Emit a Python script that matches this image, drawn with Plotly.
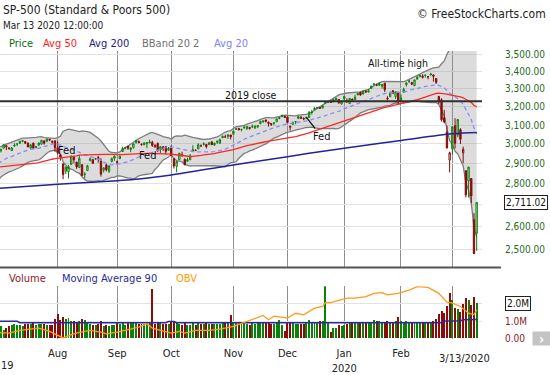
import math
import statistics
import plotly.graph_objects as go

# ---------------- data (trading-day index 0 = Jul 1 2019) ----------------
MONTH_START_IDX = [22, 44, 64, 87, 107, 128, 149, 168]
MONTH_LABELS = ["Aug", "Sep", "Oct", "Nov", "Dec", "Jan<br>2020", "Feb", ""]
PRICE_TICKS = [2500, 2600, 2700, 2800, 2900, 3000, 3100, 3200, 3300, 3400, 3500]
PRICE_TICK_HIDDEN = [2700]   # covered by the last-price box
VOLUME_TICKS = [0, 1, 2]
VOLUME_TICK_TEXT = ["0.00", "1.0M", ""]

# closes before the first visible day (for the 20/50-day averages)
PRE_CLOSE = [2900.45, 2905.03, 2907.97, 2933.68, 2927.25, 2926.17, 2939.88, 2943.03, 2945.83,
             2923.73, 2917.52, 2945.64, 2932.47, 2884.05, 2879.42, 2870.72, 2881.40, 2811.87, 2834.41,
             2850.96, 2876.32, 2859.53, 2840.23, 2864.36, 2856.27, 2822.24, 2826.06, 2802.39, 2783.02,
             2788.86, 2752.06,
             2744.45, 2803.27, 2826.15, 2843.49, 2873.34, 2886.73, 2885.72, 2879.84, 2891.64, 2886.98,
             2889.67, 2917.75, 2926.46, 2954.18, 2950.46, 2945.35, 2917.38, 2913.78, 2924.92, 2941.76]

OPEN = [
    2971.4, 2964.7, 2978.1, 2984.3, 2979.8, 2965.5, 2989.3, 2999.6, 3003.4, 3017.8, 3012.1, 3005.1, 2978.9, 3004.3, 2981.9, 2994.7, 2998.8, 3016.3, 3013.2, 3024.5, 3007.7, 3016.2,
    2980.3, 2943.9, 2898.1, 2861.2, 2858.7, 2896.2, 2930.5, 2907.1, 2880.7, 2894.2, 2846.2, 2864.7, 2913.5, 2919.0, 2922.0, 2930.9, 2911.1, 2866.7, 2893.1, 2861.3, 2910.4, 2937.1,
    2909.0, 2924.7, 2960.6, 2980.3, 2988.4, 2971.0, 2981.4, 3018.2, 3012.2, 2996.4, 2995.7, 3001.5, 3010.4, 3008.4, 2983.5, 3002.4, 2968.4, 2985.7, 2985.5, 2967.1,
    2983.7, 2924.8, 2885.4, 2918.6, 2944.2, 2920.4, 2911.1, 2918.6, 2963.1, 2965.8, 2973.6, 2989.7, 3000.8, 2996.8, 2996.5, 3010.7, 2994.0, 3014.8, 3003.3, 3032.1, 3035.4, 3039.7, 3046.9,
    3050.7, 3079.0, 3080.8, 3075.1, 3087.0, 3081.2, 3080.3, 3089.3, 3084.2, 3090.8, 3107.9, 3117.9, 3127.5, 3114.7, 3108.5, 3111.4, 3117.4, 3134.9, 3145.5, 3147.2,
    3143.8, 3087.4, 3103.5, 3119.2, 3134.6, 3141.9, 3135.4, 3135.8, 3141.2, 3166.7, 3183.6, 3195.4, 3195.2, 3192.3, 3223.3, 3226.1, 3225.4, 3227.2, 3247.2, 3240.1, 3215.2,
    3244.7, 3226.4, 3217.6, 3241.9, 3238.6, 3266.0, 3281.0, 3271.1, 3285.4, 3282.3, 3303.0, 3323.7, 3321.0, 3330.0, 3315.8, 3333.1, 3247.2, 3255.4, 3289.5, 3256.5, 3282.3,
    3235.7, 3280.6, 3324.9, 3344.9, 3335.5, 3318.3, 3365.9, 3370.5, 3365.9, 3378.1, 3369.0, 3380.4, 3380.5, 3360.5, 3257.6, 3238.9, 3139.9, 3062.5, 2916.9,
    2974.3, 3096.5, 3045.8, 3075.7, 2954.2, 2863.9, 2813.5, 2825.6, 2630.9, 2570.0,
]
HIGH = [
    2977.9, 2973.2, 2995.8, 2994.0, 2980.8, 2981.9, 3003.0, 3002.3, 3013.9, 3017.8, 3015.0, 3005.3, 2998.3, 3006.5, 2990.7, 3005.9, 3019.6, 3016.3, 3028.0, 3025.6, 3017.2, 3017.4,
    3013.6, 2945.5, 2898.1, 2884.4, 2892.2, 2938.7, 2935.8, 2907.6, 2943.3, 2894.2, 2856.7, 2893.6, 2931.0, 2923.6, 2928.7, 2939.1, 2927.0, 2879.3, 2898.8, 2890.0, 2930.5, 2940.4,
    2914.4, 2938.8, 2985.9, 2985.0, 2989.4, 2979.4, 3000.9, 3020.7, 3017.3, 3002.2, 3006.2, 3007.8, 3022.0, 3016.4, 2999.2, 3008.0, 2989.8, 2987.3, 2987.3, 2983.9,
    2992.5, 2924.8, 2911.1, 2953.7, 2959.8, 2925.5, 2929.3, 2948.5, 2993.3, 2972.8, 3003.3, 2997.5, 3008.3, 3000.0, 3007.3, 3014.6, 3004.8, 3016.1, 3027.4, 3044.1, 3047.9, 3050.1, 3046.9,
    3066.9, 3085.2, 3084.0, 3078.3, 3097.8, 3093.1, 3088.3, 3102.6, 3098.1, 3098.2, 3120.5, 3124.2, 3127.6, 3119.0, 3110.1, 3112.9, 3133.8, 3142.7, 3154.3, 3150.3,
    3144.3, 3095.0, 3119.4, 3119.4, 3150.6, 3148.9, 3142.1, 3144.0, 3176.3, 3182.7, 3197.7, 3198.2, 3198.5, 3205.5, 3225.6, 3227.8, 3226.4, 3240.1, 3247.9, 3240.9, 3231.7,
    3258.1, 3246.2, 3246.8, 3244.9, 3267.1, 3275.6, 3283.0, 3288.1, 3294.2, 3298.7, 3317.1, 3329.9, 3329.8, 3337.8, 3326.9, 3333.2, 3258.9, 3285.8, 3293.5, 3285.9, 3282.3,
    3268.4, 3306.9, 3337.6, 3348.0, 3341.4, 3352.3, 3375.6, 3381.5, 3385.1, 3380.7, 3375.0, 3393.5, 3385.1, 3360.8, 3259.8, 3247.0, 3182.5, 3097.1, 2959.7,
    3091.0, 3136.7, 3131.0, 3083.0, 2985.9, 2863.9, 2882.6, 2825.6, 2661.0, 2711.3,
]
LOW = [
    2952.2, 2955.9, 2977.9, 2967.9, 2970.1, 2963.4, 2984.6, 2988.8, 3001.9, 3008.8, 3001.2, 2984.3, 2973.1, 2975.9, 2976.7, 2988.6, 2996.8, 2996.2, 3012.6, 3014.5, 3000.9, 2958.1,
    2945.2, 2914.1, 2822.1, 2847.4, 2825.7, 2891.7, 2900.2, 2873.1, 2877.1, 2839.6, 2825.5, 2864.7, 2913.5, 2899.6, 2917.9, 2904.5, 2835.0, 2856.0, 2860.6, 2853.1, 2905.7, 2913.3,
    2891.9, 2921.9, 2960.6, 2972.5, 2969.4, 2957.0, 2975.3, 3000.9, 3002.9, 2990.7, 2993.7, 2978.6, 3003.2, 2984.7, 2982.2, 2957.7, 2952.9, 2963.7, 2945.5, 2967.1,
    2938.7, 2874.9, 2855.9, 2918.6, 2935.7, 2892.7, 2907.4, 2917.1, 2963.1, 2962.9, 2973.6, 2985.2, 2991.8, 2976.3, 2995.4, 2995.0, 2991.2, 3000.4, 3001.9, 3032.1, 3034.8, 3026.0, 3023.2,
    3050.7, 3074.9, 3072.2, 3065.9, 3080.2, 3073.6, 3075.8, 3084.7, 3078.8, 3083.3, 3104.6, 3112.1, 3113.5, 3091.4, 3094.6, 3099.3, 3117.4, 3131.0, 3143.4, 3139.3,
    3110.8, 3070.3, 3102.5, 3103.8, 3134.6, 3135.5, 3126.1, 3133.2, 3138.5, 3156.5, 3183.6, 3191.0, 3191.1, 3192.3, 3216.0, 3222.3, 3220.5, 3227.2, 3234.4, 3216.6, 3212.0,
    3235.5, 3222.3, 3214.6, 3232.4, 3236.7, 3263.7, 3260.9, 3268.4, 3277.2, 3280.7, 3302.8, 3318.9, 3316.6, 3320.0, 3302.0, 3281.5, 3234.5, 3253.2, 3271.9, 3242.8, 3214.7,
    3235.7, 3280.6, 3313.8, 3334.4, 3322.1, 3317.8, 3352.7, 3369.7, 3360.5, 3366.2, 3355.6, 3378.8, 3341.5, 3328.5, 3214.6, 3118.8, 3109.0, 2977.4, 2855.8,
    2945.2, 2976.6, 3034.4, 2999.8, 2901.5, 2734.4, 2734.0, 2707.2, 2478.9, 2492.4,
]
CLOSE = [
    2964.3, 2973.0, 2995.8, 2990.4, 2976.0, 2979.6, 2993.1, 2999.9, 3013.8, 3014.3, 3004.0, 2984.4, 2995.1, 2976.6, 2985.0, 3005.5, 3019.6, 3003.7, 3025.9, 3021.0, 3013.2, 2980.4,
    2953.6, 2932.1, 2844.7, 2881.8, 2884.0, 2938.1, 2918.7, 2882.7, 2926.3, 2840.6, 2847.6, 2888.7, 2923.7, 2900.5, 2924.4, 2923.0, 2847.1, 2878.4, 2869.2, 2887.9, 2924.6, 2926.5,
    2906.3, 2937.8, 2976.0, 2978.7, 2978.4, 2979.4, 3000.9, 3009.6, 3007.4, 2998.0, 3005.7, 3006.7, 3006.8, 2992.1, 2991.8, 2966.6, 2984.9, 2977.6, 2961.8, 2976.7,
    2940.3, 2887.6, 2910.6, 2952.0, 2938.8, 2893.1, 2919.4, 2938.1, 2970.3, 2966.2, 2995.7, 2989.7, 2998.0, 2986.2, 3006.7, 2996.0, 3004.5, 3010.3, 3022.6, 3039.4, 3036.9, 3046.8, 3037.6,
    3066.9, 3078.3, 3074.6, 3076.8, 3085.2, 3093.1, 3087.0, 3091.8, 3094.0, 3096.6, 3120.5, 3122.0, 3120.2, 3108.5, 3103.5, 3110.3, 3133.6, 3140.5, 3153.6, 3141.0,
    3113.9, 3093.2, 3112.8, 3117.4, 3145.9, 3136.0, 3132.5, 3141.6, 3168.6, 3168.8, 3191.5, 3192.5, 3191.1, 3205.4, 3221.2, 3224.0, 3223.4, 3239.9, 3240.0, 3221.3, 3230.8,
    3257.9, 3234.9, 3246.3, 3237.2, 3253.1, 3274.7, 3265.4, 3288.1, 3283.2, 3289.3, 3316.8, 3329.6, 3320.8, 3321.8, 3325.5, 3295.5, 3243.6, 3276.2, 3273.4, 3283.7, 3225.5,
    3248.9, 3297.6, 3334.7, 3345.8, 3327.7, 3352.1, 3357.8, 3379.5, 3373.9, 3380.2, 3370.3, 3386.2, 3373.2, 3337.8, 3225.9, 3128.2, 3116.4, 2978.8, 2954.2,
    3090.2, 3003.4, 3130.1, 3023.9, 2972.4, 2746.6, 2882.2, 2741.4, 2480.6, 2711.02,
]
VOLUME = [
    0.75, 0.7, 0.45, 0.55, 0.7, 0.75, 0.8, 0.75, 0.75, 0.7, 0.8, 0.8, 0.8, 0.85, 0.75, 0.8, 0.8, 0.8, 0.75, 0.75, 0.75, 1.1,
    1.36, 1.05, 1.2, 1.1, 1.15, 1.0, 1.0, 0.85, 1.0, 1.1, 1.05, 0.9, 0.8, 0.75, 0.75, 0.8, 1.0, 0.7, 0.75, 0.7, 0.75, 0.75,
    0.85, 0.8, 0.85, 0.75, 0.85, 0.9, 0.9, 0.9, 0.8, 0.8, 0.8, 0.85, 0.85, 2.85, 0.8, 0.85, 0.85, 0.8, 0.8, 0.8,
    0.95, 1.0, 0.95, 0.8, 0.75, 0.85, 0.75, 0.75, 0.9, 0.75, 0.85, 0.8, 0.8, 0.85, 0.8, 0.8, 0.8, 0.8, 0.8, 0.85, 0.85, 0.85, 1.3,
    0.85, 0.9, 0.9, 0.85, 0.9, 0.8, 0.75, 0.85, 0.8, 0.85, 0.85, 0.85, 0.85, 0.85, 0.8, 0.8, 0.85, 1.05, 0.75, 0.4,
    0.9, 0.9, 0.85, 0.8, 0.8, 0.8, 0.8, 0.85, 1.05, 0.95, 0.95, 0.9, 1.0, 1.0, 3.0, 0.85, 0.35, 0.55, 0.6, 0.75, 0.7,
    0.75, 0.8, 0.85, 0.85, 0.95, 0.85, 0.85, 0.85, 0.9, 0.95, 0.95, 1.05, 1.0, 1.0, 0.95, 0.95, 1.0, 0.9, 0.95, 1.0, 1.2,
    1.0, 0.95, 1.0, 0.95, 0.9, 0.9, 0.95, 0.9, 0.9, 0.9, 0.9, 0.9, 1.0, 1.1, 1.36, 1.58, 1.45, 1.87, 2.6,
    2.2, 1.75, 1.66, 1.5, 1.95, 2.3, 2.2, 1.9, 2.35, 2.05,
]
MA200_IDX = [0, 22, 44, 52, 64, 87, 107, 115, 128, 149, 168, 177]
MA200_VAL = [2778, 2798, 2815, 2823, 2843, 2893, 2934, 2952, 2978, 3018, 3053, 3060]
MA90_IDX = [0, 7, 8, 62, 63, 65, 66, 101, 102, 110, 111, 164, 165, 171, 172, 177]
MA90_VAL = [0.98, 0.98, 0.9, 0.9, 0.97, 0.97, 0.9, 0.9, 0.94, 0.94, 0.9, 0.9, 1.0, 1.02, 1.07, 1.09]
OBV_IDX = [0, 4, 8, 12, 15, 19, 22, 24, 27, 30, 34, 38, 40, 44, 49, 52, 55, 57, 60, 64,
           67, 69, 73, 78, 82, 87, 91, 95, 98, 100, 102, 107, 110, 113, 117, 120, 121, 123, 127, 129,
           132, 136, 139, 142, 144, 148, 152, 155, 159, 163, 166, 168, 171, 174, 176, 177]
OBV_VAL = [.34, .30, .46, .53, .59, .40, .15, .02, .21, .34, .46, .36, .26, .36, .53, .65, .84, .59, .46, .30,
           .40, .30, .46, .46, .53, .69, .92, 1.17, 1.32, 1.07, 1.28, 1.17, 1.45, 1.36, 1.74, 1.84, 2.07, 2.07, 2.22, 2.32,
           2.32, 2.41, 2.60, 2.64, 2.51, 2.60, 2.79, 2.99, 2.95, 2.60, 2.09, 2.03, 1.84, 1.45, 1.36, 1.64]
YEAR_END_CLOSE = 3230.78
FED_ARROW_IDX = 114

# ---------------- derived indicators ----------------
N = len(CLOSE)
X = list(range(N))
ALL_CLOSE = PRE_CLOSE + CLOSE
OFF = len(PRE_CLOSE)
MA20, BB_UP, BB_LO, MA50 = [], [], [], []
for i in range(N):
    w = ALL_CLOSE[OFF + i - 19: OFF + i + 1]
    m = sum(w) / 20.0
    sd = statistics.pstdev(w)
    MA20.append(m)
    BB_UP.append(m + 2 * sd)
    BB_LO.append(m - 2 * sd)
    w50 = ALL_CLOSE[OFF + i - 49: OFF + i + 1]
    MA50.append(sum(w50) / 50.0)
PREV = [ALL_CLOSE[OFF + i - 1] for i in range(N)]
UP = [CLOSE[i] >= PREV[i] for i in range(N)]

# ---------------- layout geometry (pixels) ----------------
W, H = 550, 375
PL, PR, PT, PB = 0, 482, 51, 341
MAIN_BOTTOM_PX, VOL_TOP_PX = 269, 288
X_MIN, X_MAX = 0.655, 178.97
LOG_TOP = math.log10(3500) + (55 - PT) / 1338.0
LOG_BOT = math.log10(3500) - (MAIN_BOTTOM_PX - 55) / 1338.0
VOL_RANGE = [-(PB - 340.3) / 17.4, (340.3 - VOL_TOP_PX) / 17.4]


def xp(px):
    return (px - PL) / (PR - PL)


def yp(py):
    return (PB - py) / (PB - PT)


FONT = "DejaVu Sans Condensed, DejaVu Sans, sans-serif"
GREEN = "#0a820a"
RED = "#8b0a0a"

fig = go.Figure()

# Bollinger band fill (base layer)
fig.add_trace(go.Scatter(x=X, y=BB_LO, xaxis="x2", yaxis="y", mode="lines",
                         line=dict(color="#7d7d7d", width=1.3), hoverinfo="skip"))
fig.add_trace(go.Scatter(x=X, y=BB_UP, xaxis="x2", yaxis="y", mode="lines", fill="tonexty",
                         fillcolor="rgba(140,140,140,0.30)",
                         line=dict(color="#7d7d7d", width=1.3), hoverinfo="skip"))

# candles (overlay layer)
for flag, col in ((True, GREEN), (False, RED)):
    idx = [i for i in range(N) if UP[i] == flag]
    fig.add_trace(go.Candlestick(
        x=idx, open=[OPEN[i] for i in idx], high=[HIGH[i] for i in idx],
        low=[LOW[i] for i in idx], close=[CLOSE[i] for i in idx],
        xaxis="x2", yaxis="y3", whiskerwidth=0,
        increasing=dict(line=dict(color=col, width=1), fillcolor="rgba(0,0,0,0)"),
        decreasing=dict(line=dict(color=col, width=1), fillcolor=col),
        hoverinfo="skip"))

fig.add_trace(go.Scatter(x=X, y=MA20, xaxis="x2", yaxis="y3", mode="lines",
                         line=dict(color="#8a8aff", width=1.3, dash="4px,3px")))
fig.add_trace(go.Scatter(x=X, y=MA50, xaxis="x2", yaxis="y3", mode="lines",
                         line=dict(color="#ff2626", width=1.3)))
fig.add_trace(go.Scatter(x=MA200_IDX, y=MA200_VAL, xaxis="x2", yaxis="y3", mode="lines",
                         line=dict(color="#22229a", width=1.5, shape="spline")))
fig.add_trace(go.Scatter(x=[X_MIN, X_MAX], y=[YEAR_END_CLOSE, YEAR_END_CLOSE], xaxis="x2", yaxis="y3",
                         mode="lines", line=dict(color="#303030", width=2)))

# volume panel
fig.add_trace(go.Bar(x=X, y=VOLUME, xaxis="x", yaxis="y2", width=0.36,
                     marker=dict(color=[GREEN if u else RED for u in UP], line=dict(width=0))))
fig.add_trace(go.Scatter(x=MA90_IDX, y=MA90_VAL, xaxis="x", yaxis="y2", mode="lines",
                         line=dict(color="#2a2a9a", width=1.5)))
fig.add_trace(go.Scatter(x=OBV_IDX, y=OBV_VAL, xaxis="x", yaxis="y4", mode="lines",
                         line=dict(color="#ff9a1a", width=1.3)))

grid_v = "#8f8f8f"
fig.update_layout(
    width=W, height=H, margin=dict(l=PL, r=W - PR, t=PT, b=H - PB),
    paper_bgcolor="white", plot_bgcolor="white", showlegend=False,
    font=dict(family=FONT, size=11, color="#222"),
    bargap=0,
    xaxis=dict(domain=[0, 1], anchor="y2", range=[X_MIN, X_MAX], tickmode="array",
               tickvals=MONTH_START_IDX, ticktext=MONTH_LABELS, showgrid=True, gridcolor=grid_v,
               gridwidth=1, zeroline=False, showline=False, ticks="outside", ticklen=4,
               tickcolor="rgba(0,0,0,0)", tickfont=dict(size=11, color="#222"),
               rangeslider=dict(visible=False)),
    xaxis2=dict(domain=[0, 1], anchor="y", range=[X_MIN, X_MAX], tickmode="array",
                tickvals=MONTH_START_IDX, showticklabels=False, showgrid=True, gridcolor=grid_v,
                gridwidth=1, zeroline=False, showline=False, rangeslider=dict(visible=False)),
    yaxis=dict(domain=[yp(MAIN_BOTTOM_PX), 1], anchor="x2", type="log", range=[LOG_BOT, LOG_TOP],
               side="right", tickmode="array", tickvals=PRICE_TICKS,
               ticktext=["" if v in PRICE_TICK_HIDDEN else f"{v:,.2f}" for v in PRICE_TICKS],
               showgrid=True, gridcolor="#e3e3e3",
               zeroline=False, showline=False, ticks="outside", ticklen=20,
               tickcolor="rgba(0,0,0,0)", tickfont=dict(size=10, color="#1f6a1f")),
    yaxis3=dict(overlaying="y", anchor="x2", type="log", range=[LOG_BOT, LOG_TOP], visible=False),
    yaxis2=dict(domain=[0, yp(VOL_TOP_PX)], anchor="x", range=VOL_RANGE, side="right",
                tickmode="array", tickvals=VOLUME_TICKS, ticktext=VOLUME_TICK_TEXT, showgrid=True,
                gridcolor="#e3e3e3", zeroline=False, showline=False, ticks="outside", ticklen=20,
                tickcolor="rgba(0,0,0,0)", tickfont=dict(size=10, color="#8b1a1a")),
    yaxis4=dict(overlaying="y2", anchor="x", range=VOL_RANGE, visible=False),
)

ann = []


def txt(s, px, py, size, color="#222", anchor="left"):
    ann.append(dict(text=s, x=xp(px), y=yp(py), xref="paper", yref="paper", showarrow=False,
                    xanchor=anchor, yanchor="middle", font=dict(size=size, color=color)))


txt("SP-500 (Standard &amp; Poors 500)", 1, 10, 12, "#222")
txt("Mar 13 2020 12:00:00", 1, 25, 10, "#222")
txt("© FreeStockCharts.com", 548, 14, 12, "#222", "right")
for s, px, c in (("Price", 7, "#0b6b0b"), ("Avg 50", 41, "#ff1a1a"), ("Avg 200", 87, "#1a1a8c"),
                 ("BBand 20 2", 140, "#707070"), ("Avg 20", 212, "#8080ff")):
    txt(s, px, 43, 11, c)
for s, px, c in (("Volume", 7, "#8b1a1a"), ("Moving Average 90", 60, "#2a2a9a"), ("OBV", 174, "#ff9900")):
    txt(s, px, 280, 11, c)
txt("All-time high", 398, 63, 10.5, "#111", "center")
txt("2019 close", 251, 95, 10.5, "#111", "center")
txt("Fed", 66.5, 151, 11, "#111", "center")
txt("Fed", 147.5, 156, 11, "#111", "center")
txt("19", -1, 368, 11, "#222")
txt("3/13/2020", 464.5, 361, 11, "#222", "center")

# Fed arrow to the Dec 11 candle
ann.append(dict(text="Fed", x=FED_ARROW_IDX, y=math.log10(CLOSE[FED_ARROW_IDX]), xref="x2", yref="y3",
                showarrow=True, arrowhead=0, arrowwidth=1.3, arrowcolor="#111", ax=15, ay=19,
                font=dict(size=11, color="#111")))
# last price box
ann.append(dict(text=f"{CLOSE[-1]:,.2f}", x=xp(526), y=math.log10(CLOSE[-1]), xref="paper", yref="y",
                showarrow=False, xanchor="center", yanchor="middle", bgcolor="white",
                bordercolor="#222", borderwidth=1, borderpad=1, font=dict(size=10, color="#111")))
# last volume box
ann.append(dict(text="2.0M", x=xp(517.5), y=VOLUME_TICKS[2], xref="paper", yref="y2",
                showarrow=False, xanchor="center", yanchor="middle", bgcolor="white",
                bordercolor="#222", borderwidth=1, borderpad=1, font=dict(size=10, color="#111")))
# scroll button
ann.append(dict(text="<b>›</b>", x=xp(541), y=yp(340.5), xref="paper", yref="paper", showarrow=False,
                xanchor="center", yanchor="middle", bgcolor="#c4c4c4", borderpad=0, width=17, height=13,
                font=dict(size=14, color="white")))
fig.update_layout(annotations=ann)

fig.add_shape(type="line", xref="paper", yref="paper", x0=xp(0), x1=xp(501),
              y0=yp(MAIN_BOTTOM_PX), y1=yp(MAIN_BOTTOM_PX), line=dict(color="#555", width=2))

fig.write_html("out.html", config={"displayModeBar": False},
               post_script="document.body.style.margin='0';document.body.style.overflow='hidden';")
